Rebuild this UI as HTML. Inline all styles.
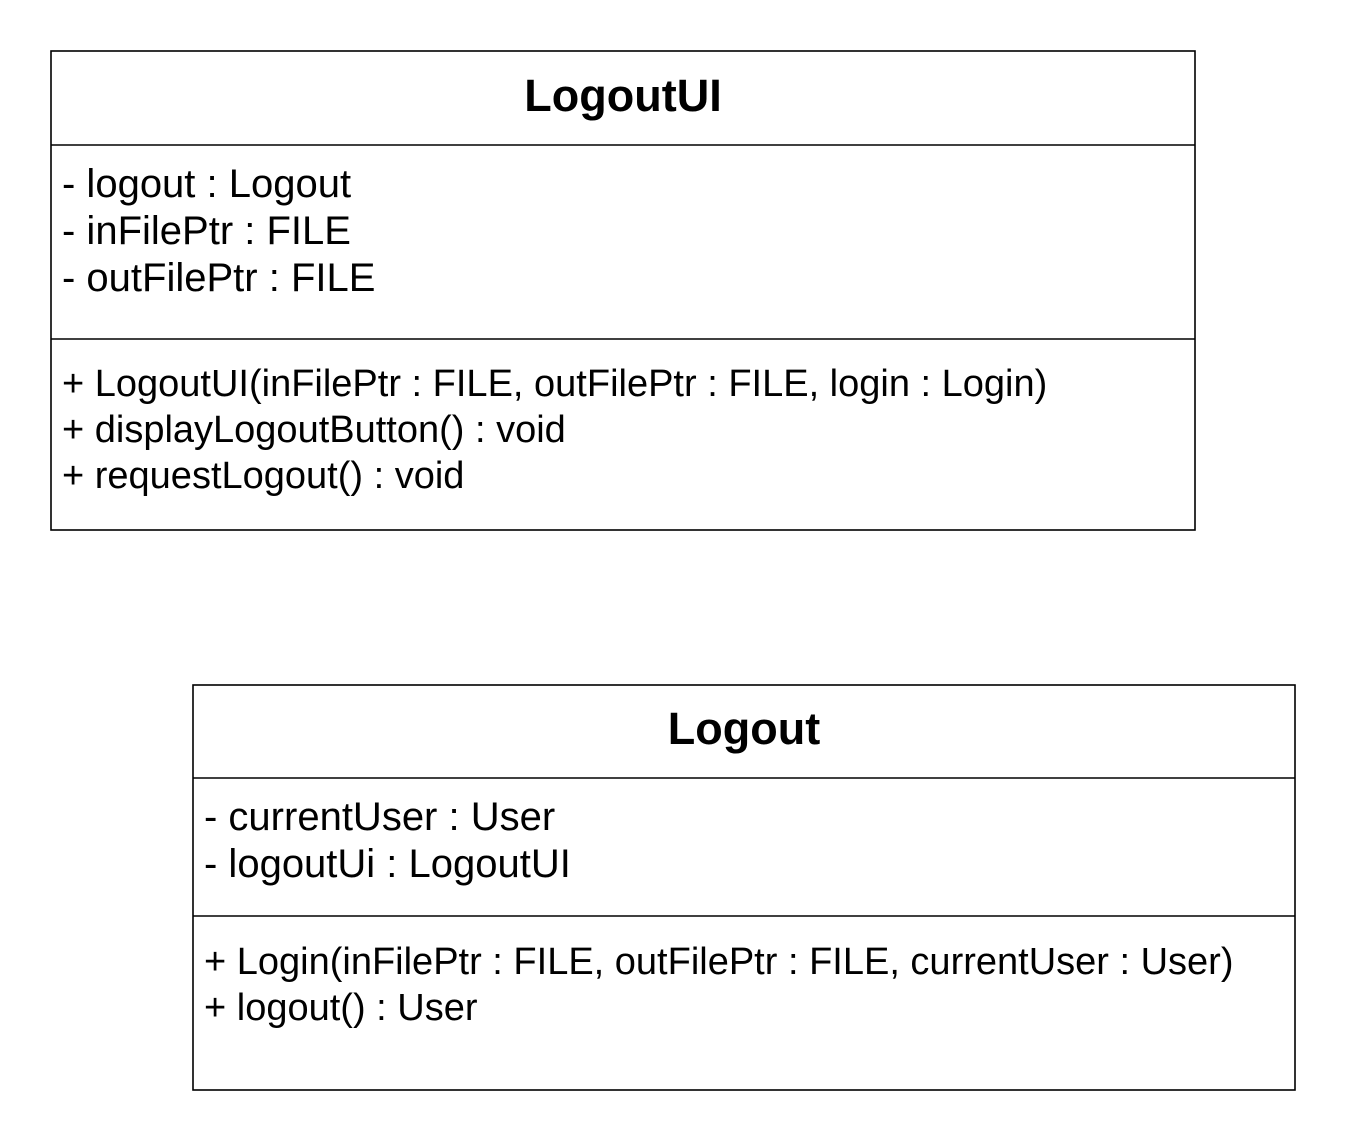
<!DOCTYPE html>
<html><head><meta charset="utf-8"><style>
html,body{margin:0;padding:0;background:#fff;}
svg{display:block;}
text{font-family:"Liberation Sans",Arial,sans-serif;fill:#000;}
.t{font-size:45px;font-weight:bold;}
.m{font-size:38px;}
.a{font-size:40px;}
</style></head><body>
<svg width="1346" height="1148" viewBox="0 0 1346 1148" xmlns="http://www.w3.org/2000/svg">
<rect x="0" y="0" width="1346" height="1148" fill="#fff"/>
<g fill="none" stroke="#000" stroke-width="1.6">
<rect x="51" y="51" width="1144" height="479"/>
<line x1="51" y1="145" x2="1195" y2="145"/>
<line x1="51" y1="339" x2="1195" y2="339"/>
<rect x="193" y="685" width="1102" height="405"/>
<line x1="193" y1="778" x2="1295" y2="778"/>
<line x1="193" y1="916" x2="1295" y2="916"/>
</g>
<text class="t" x="623" y="111" text-anchor="middle">LogoutUI</text>
<text class="a" x="62" y="197">- logout : Logout</text>
<text class="a" x="62" y="244">- inFilePtr : FILE</text>
<text class="a" x="62" y="291">- outFilePtr : FILE</text>
<text class="m" x="62" y="396">+ LogoutUI(inFilePtr : FILE, outFilePtr : FILE, login : Login)</text>
<text class="m" x="62" y="442">+ displayLogoutButton() : void</text>
<text class="m" x="62" y="488">+ requestLogout() : void</text>
<text class="t" x="744" y="744" text-anchor="middle">Logout</text>
<text class="a" x="204" y="830">- currentUser : User</text>
<text class="a" x="204" y="877">- logoutUi : LogoutUI</text>
<text class="m" x="204" y="974">+ Login(inFilePtr : FILE, outFilePtr : FILE, currentUser : User)</text>
<text class="m" x="204" y="1020">+ logout() : User</text>
</svg>
</body></html>
